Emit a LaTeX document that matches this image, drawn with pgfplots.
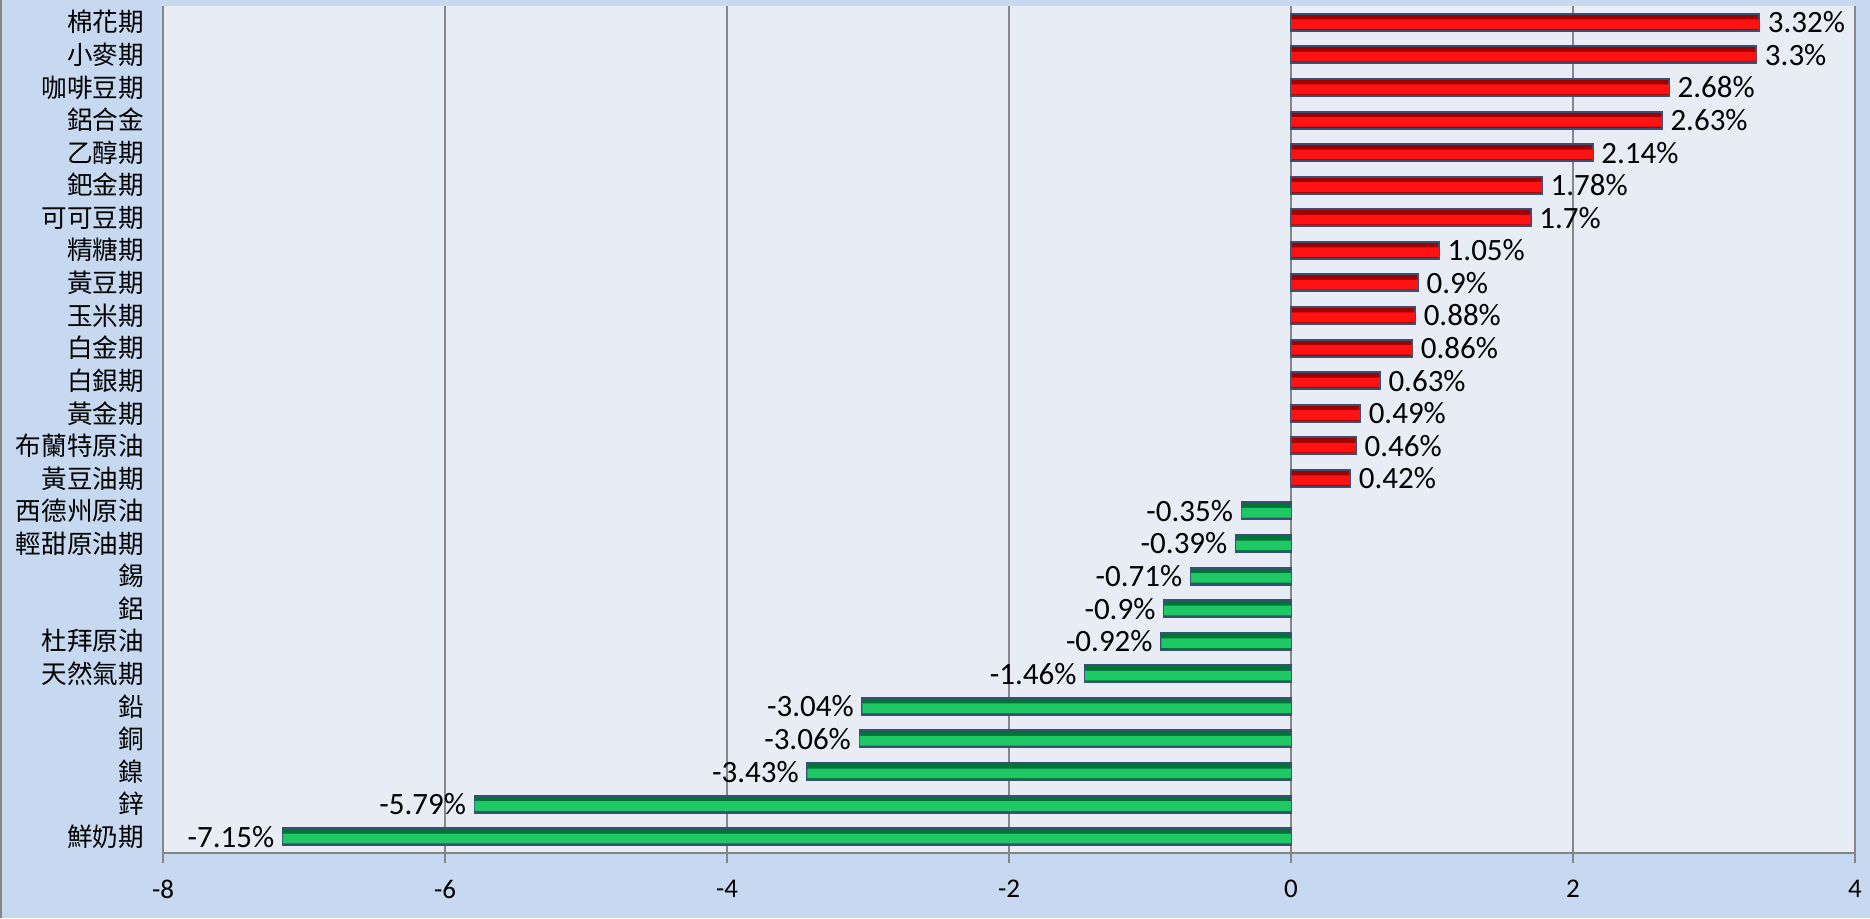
\documentclass[border=0pt]{standalone}
\usepackage{pgfplots}
\pgfplotsset{compat=1.18}
\usepackage{pgfplotstable}
\usepackage{fontspec}
\setmainfont{Carlito}
\newfontfamily\cjk{Noto Sans CJK TC}
\definecolor{outerbg}{RGB}{198,217,240}
\definecolor{plotbg}{RGB}{232,237,245}
\definecolor{gridc}{RGB}{134,134,134}
\definecolor{barline}{RGB}{55,80,115}
\definecolor{reddark}{RGB}{160,0,0}
\definecolor{redbright}{RGB}{255,18,18}
\definecolor{greendark}{RGB}{0,115,55}
\definecolor{greenbright}{RGB}{30,200,100}

\pgfplotstableread{
y x
0 3.32
1 3.3
2 2.68
3 2.63
4 2.14
5 1.78
6 1.7
7 1.05
8 0.9
9 0.88
10 0.86
11 0.63
12 0.49
13 0.46
14 0.42
}\pos
\pgfplotstableread{
y x
15 -0.35
16 -0.39
17 -0.71
18 -0.9
19 -0.92
20 -1.46
21 -3.04
22 -3.06
23 -3.43
24 -5.79
25 -7.15
}\negv

\begin{document}
\begin{tikzpicture}
\useasboundingbox (0,0) rectangle (935pt,459pt);
\fill[outerbg] (0,0) rectangle (935pt,459pt);
\draw[gridc, line width=1pt] (0.5pt,0) -- (0.5pt,459pt);
\begin{axis}[
  at={(81.5pt,32.5pt)}, anchor=south west,
  scale only axis, width=846pt, height=423.5pt,
  xmin=-8, xmax=4, ymin=-0.5, ymax=25.5,
  y dir=reverse,
  axis background/.style={fill=plotbg},
  axis lines*=left,
  axis line style={gridc, line width=0.7pt},
  xtick={-8,-6,...,4},
  xmajorgrids, major grid style={gridc, line width=0.6pt},
  x tick style={gridc, line width=0.7pt},
  tick align=outside, major tick length=5pt,
  ytick={0,...,25},
  y tick style={draw=none},
  yticklabels={棉花期,小麥期,咖啡豆期,鋁合金,乙醇期,鈀金期,可可豆期,精糖期,黃豆期,玉米期,白金期,白銀期,黃金期,布蘭特原油,黃豆油期,西德州原油,輕甜原油期,錫,鋁,杜拜原油,天然氣期,鉛,銅,鎳,鋅,鮮奶期},
  yticklabel style={font=\cjk\fontsize{12.8}{14}\selectfont, xshift=-1pt},
  xticklabel style={font=\fontsize{13.5}{15}\selectfont, yshift=-5pt},
  /pgf/number format/assume math mode=true,
  xbar, bar width=8.5pt,
]
\addplot[bar shift=0pt, draw=barline, line width=1pt, fill=reddark,
  point meta=x,
  nodes near coords={\pgfmathprintnumber[assume math mode=true]{\pgfplotspointmeta}\%},
  nodes near coords align=horizontal,
  every node near coord/.append style={font=\fontsize{15.5}{17}\selectfont, text=black, anchor=west, xshift=0.5pt}]
  table[x=x, y=y] {\pos};
\addplot[bar shift=-0.9pt, bar width=4.8pt, draw=none, fill=redbright]
  table[x=x, y=y] {\pos};
\addplot[bar shift=0pt, draw=barline, line width=1pt, fill=greendark,
  point meta=x,
  nodes near coords={\pgfmathprintnumber[assume math mode=true]{\pgfplotspointmeta}\%},
  nodes near coords align=horizontal,
  every node near coord/.append style={font=\fontsize{15.5}{17}\selectfont, text=black, anchor=east, xshift=-0.5pt}]
  table[x=x, y=y] {\negv};
\addplot[bar shift=-0.9pt, bar width=4.8pt, draw=none, fill=greenbright]
  table[x=x, y=y] {\negv};
\end{axis}
\end{tikzpicture}
\end{document}
